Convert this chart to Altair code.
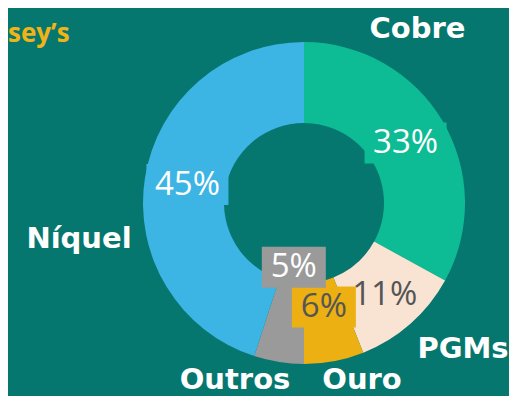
import altair as alt
import pandas as pd

# ---- data ----
categories = ["Cobre", "PGMs", "Ouro", "Outros", "Níquel"]
shares = [33, 11, 6, 5, 45]
pct_labels = ["33%", "11%", "6%", "5%", "45%"]

# ---- styling / layout ----
slice_colors = ["#0dbc95", "#f9e4d4", "#ecb013", "#9a9a9a", "#3cb4e4"]
BG = "#06776f"
W, H = 501, 388
CX, CY = 296, 195
R_OUT, R_IN = 161, 80
PCT_FONT = "Open Sans"
NAME_FONT = "DejaVu Sans"

df = pd.DataFrame({"cat": categories, "share": shares, "label": pct_labels,
                   "idx": list(range(len(categories)))})

xs = alt.Scale(domain=[-CX, W - CX], range=[0, W], nice=False, zero=False)
ys = alt.Scale(domain=[-(H - CY), CY], nice=False, zero=False)
color_scale = alt.Scale(domain=categories, range=slice_colors)

base = alt.Chart(df)

arc = base.mark_arc(outerRadius=R_OUT, innerRadius=R_IN, x=CX, y=CY, stroke=None).encode(
    theta=alt.Theta("share:Q", stack=True),
    color=alt.Color("cat:N", scale=color_scale, legend=None),
    order=alt.Order("idx:Q"),
)

lab = (
    base.transform_window(cum="sum(share)", sort=[alt.SortField("idx")], frame=[None, 0])
    .transform_joinaggregate(total="sum(share)")
    .transform_calculate(mid="2*PI*(datum.cum - datum.share/2)/datum.total")
    .transform_calculate(
        r="datum.cat == 'Outros' ? 65 : (datum.cat == 'Ouro' ? 106 : (datum.cat == 'PGMs' ? 122 : 118))"
    )
    .transform_calculate(px="datum.r*sin(datum.mid)", py="datum.r*cos(datum.mid)")
    .transform_calculate(box="length(datum.label) > 2 ? 'wide' : 'narrow'")
)

wide = "M-41,-20.5H41V20.5H-41Z"
narrow = "M-32,-20.5H32V20.5H-32Z"

boxes = lab.transform_filter("datum.cat != 'PGMs'").mark_point(
    filled=True, opacity=1, size=4, strokeWidth=0
).encode(
    x=alt.X("px:Q", scale=xs, axis=None),
    y=alt.Y("py:Q", scale=ys, axis=None),
    shape=alt.Shape("box:N", scale=alt.Scale(domain=["wide", "narrow"], range=[wide, narrow]), legend=None),
    color=alt.Color("cat:N", scale=color_scale, legend=None),
)

txt = lab.mark_text(font=PCT_FONT, fontSize=33, baseline="middle", align="center").encode(
    x=alt.X("px:Q", scale=xs, axis=None),
    y=alt.Y("py:Q", scale=ys, axis=None),
    text="label:N",
    color=alt.condition("datum.cat == 'PGMs' || datum.cat == 'Ouro'",
                        alt.value("#555555"), alt.value("#ffffff")),
)

label_pos = {"Cobre": (409.5, 30), "PGMs": (455, 350), "Ouro": (354, 381),
             "Outros": (227, 381), "Níquel": (71, 240)}
name_layers = []
for name, (lx, ly) in label_pos.items():
    name_layers.append(
        alt.Chart(pd.DataFrame({"t": [name]})).mark_text(
            font=NAME_FONT, fontWeight="bold", fontSize=29, color="white",
            align="center", baseline="alphabetic", x=lx, y=ly
        ).encode(text="t:N")
    )

corner = alt.Chart(pd.DataFrame({"t": ["sey’s"]})).mark_text(
    font="Open Sans", fontWeight="bold", fontSize=26, color="#f0b416",
    align="left", baseline="alphabetic", x=0, y=34
).encode(text="t:N")

chart = alt.layer(arc, boxes, txt, *name_layers, corner).properties(
    width=W, height=H, background=BG, padding=0,
    autosize=alt.AutoSizeParams(type="none"),
).configure_view(stroke=None, fill=BG)

chart.save("out.html", embed_options={"renderer": "svg", "actions": False})
